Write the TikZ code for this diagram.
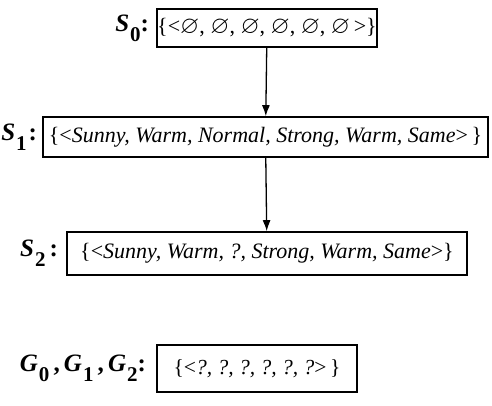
\documentclass[tikz,border=0pt]{standalone}
\usepackage{amssymb}
\usepackage{graphicx}
\usepackage{fontspec}
\setmainfont{Liberation Serif}
\usetikzlibrary{arrows.meta}
\newcommand{\lblS}[2]{{\fontsize{25}{28}\selectfont\bfseries\itshape #1}\kern1pt\raisebox{-0.85ex}{\fontsize{21}{24}\selectfont\bfseries #2}}
\newcommand{\es}{\scalebox{1.12}{$\varnothing$}}
\begin{document}
\begin{tikzpicture}[x=1pt,y=1pt,
  box/.style={draw, line width=1.6pt, inner sep=0pt, font=\fontsize{22}{26}\selectfont},
  lbl/.style={anchor=east, inner sep=0pt, font=\fontsize{25}{28}\selectfont\bfseries},
  arr/.style={line width=1.3pt, -{Latex[length=11pt,width=8pt]}}]
\useasboundingbox (0,0) rectangle (492,-405);
\node[box, minimum width=220pt, minimum height=38pt] (s0) at (267,-28)
  {\{<\es, \es, \es, \es, \es, \es\,>\}};
\node[box, minimum width=445pt, minimum height=40pt] (s1) at (265.5,-137)
  {\{<\textit{Sunny, Warm, Normal, Strong, Warm, Same}>\,\}};
\node[box, minimum width=400pt, minimum height=43pt] (s2) at (267,-253.5)
  {\{<\textit{Sunny, Warm, ?, Strong, Warm, Same}>\}};
\node[box, minimum width=200pt, minimum height=47pt, font=\fontsize{21.5}{25}\selectfont] (g) at (257,-368.5)
  {\{<\textit{?, ?, ?, ?, ?, ?}>\,\}};
\node[lbl] (l0) at ([xshift=-7pt]s0.west) {\lblS{S}{0}:};
\node[lbl] (l1) at ([xshift=-5pt]s1.west) {\lblS{S}{1}\kern2pt:};
\node[lbl] (l2) at ([xshift=-8pt]s2.west) {\lblS{S}{2}\,:};
\node[lbl] (lg) at ([xshift=-10pt]g.west) {\lblS{G}{0}\,,\,\lblS{G}{1}\,,\,\lblS{G}{2}:};
\draw[arr] (s0) -- (s1);
\draw[arr] (s1) -- (s2);
\end{tikzpicture}
\end{document}
